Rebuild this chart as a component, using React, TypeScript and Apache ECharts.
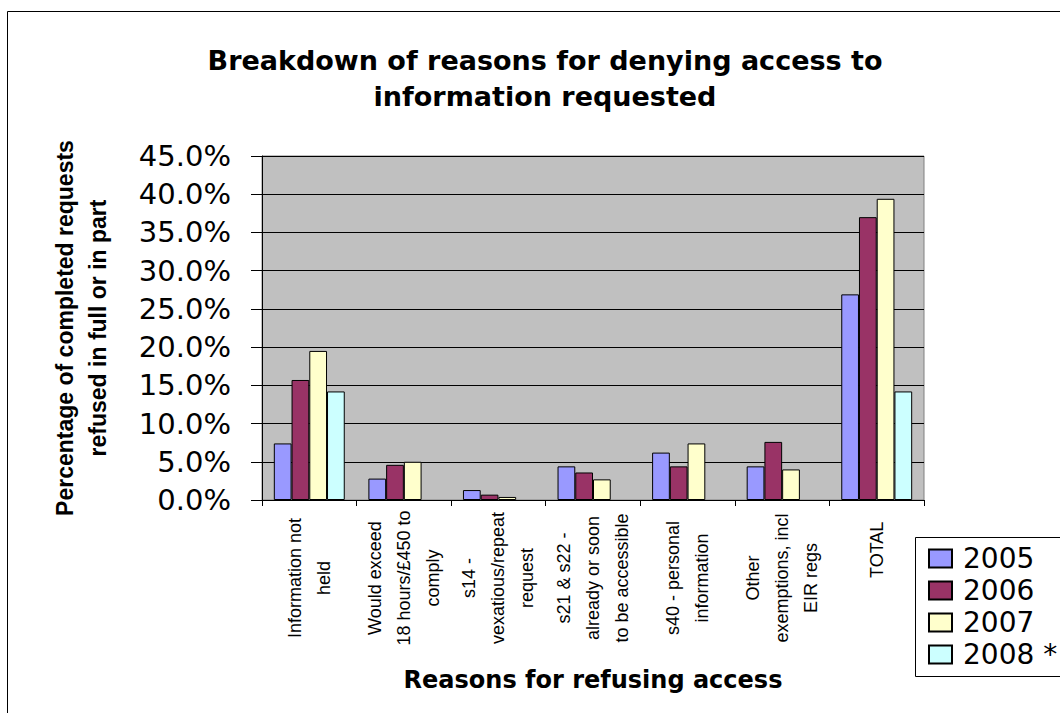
import React, { useEffect, useRef } from "react";
import * as echarts from "echarts";

const categories: string[] = [
  "Information not\nheld",
  "Would exceed\n18 hours/£450 to\ncomply",
  "s14 -\nvexatious/repeat\nrequest",
  "s21 & s22 -\nalready or soon\nto be accessible",
  "s40 - personal\ninformation",
  "Other\nexemptions, incl\nEIR regs",
  "TOTAL",
];

const seriesNames: string[] = ["2005", "2006", "2007", "2008 *"];

const values2005: (number | null)[] = [7.4, 2.8, 1.3, 4.4, 6.2, 4.4, 26.9];
const values2006: (number | null)[] = [15.7, 4.6, 0.7, 3.6, 4.4, 7.6, 37.0];
const values2007: (number | null)[] = [19.5, 5.0, 0.4, 2.7, 7.4, 4.0, 39.4];
const values2008: (number | null)[] = [14.2, null, null, null, null, null, 14.2];

const colors: string[] = ["#9999FF", "#993366", "#FFFFCC", "#CCFFFF"];

const titleText = "Breakdown of reasons for denying access to\ninformation requested";
const yAxisName = "Percentage of completed requests\nrefused in full or in part";
const xAxisName = "Reasons for refusing access";

export default function App() {
  const ref = useRef<HTMLDivElement>(null);

  useEffect(() => {
    if (!ref.current) return;
    const chart = echarts.init(ref.current, null, { renderer: "svg" });
    const allValues = [values2005, values2006, values2007, values2008];

    const xData = categories.map((c, i) =>
      i === categories.length - 1 ? { value: c, textStyle: { align: "left" } } : c
    );

    chart.setOption({
      animation: false,
      backgroundColor: "#ffffff",
      title: {
        text: titleText,
        left: 545,
        top: 42,
        padding: 0,
        textAlign: "center",
        textStyle: {
          fontFamily: "DejaVu Sans",
          fontWeight: "bold",
          fontSize: 27,
          lineHeight: 36,
          color: "#000",
        },
      },
      graphic: [
        {
          type: "rect",
          shape: { x: 7.5, y: 11.5, width: 1200, height: 900 },
          style: { fill: "none", stroke: "#000", lineWidth: 1 },
          silent: true,
          z: -10,
        },
        {
          type: "rect",
          shape: { x: 915.5, y: 537.5, width: 200, height: 139 },
          style: { fill: "#ffffff", stroke: "#000", lineWidth: 1 },
          silent: true,
          z: 1,
        },
      ],
      legend: {
        orient: "vertical",
        left: 915,
        top: 544,
        padding: [0, 0, 0, 13],
        itemGap: 3,
        itemWidth: 23,
        itemHeight: 18,
        borderWidth: 0,
        icon: "rect",
        z: 10,
        textStyle: {
          fontFamily: "DejaVu Sans",
          fontSize: 28,
          lineHeight: 29,
          color: "#000",
          padding: [0, 0, 0, 6],
        },
        data: seriesNames,
      },
      grid: {
        left: 262,
        top: 156,
        right: 136,
        bottom: 213,
        show: true,
        backgroundColor: "#C0C0C0",
        borderColor: "#808080",
        borderWidth: 1,
        containLabel: false,
      },
      xAxis: {
        type: "category",
        data: xData,
        name: xAxisName,
        nameLocation: "middle",
        nameGap: 168,
        nameTextStyle: {
          fontFamily: "DejaVu Sans",
          fontWeight: "bold",
          fontSize: 24,
          lineHeight: 24,
          color: "#000",
        },
        axisLine: { lineStyle: { color: "#000", width: 1 } },
        axisTick: { show: true, alignWithLabel: false, length: 6, lineStyle: { color: "#000" } },
        axisLabel: {
          interval: 0,
          rotate: 90,
          align: "center",
          verticalAlign: "middle",
          margin: 78,
          fontFamily: "Liberation Sans",
          fontSize: 18,
          lineHeight: 29,
          color: "#000",
          formatter: (v: string) =>
            v
              .split("\n")
              .map((line) => `{a|${line}}`)
              .join("\n"),
          rich: {
            a: {
              fontFamily: "Liberation Sans",
              fontSize: 18,
              lineHeight: 29,
              color: "#000",
              align: "center",
            },
          },
        },
        splitLine: { show: false },
      },
      yAxis: {
        type: "value",
        min: 0,
        max: 45,
        interval: 5,
        name: yAxisName,
        nameLocation: "middle",
        nameGap: 148,
        nameTextStyle: {
          fontFamily: "Liberation Sans",
          fontWeight: "bold",
          fontSize: 23,
          lineHeight: 33,
          color: "#000",
        },
        axisLine: { show: true, lineStyle: { color: "#000", width: 1 } },
        axisTick: { show: true, length: 11, lineStyle: { color: "#000" } },
        axisLabel: {
          formatter: (v: number) => v.toFixed(1) + "%",
          margin: 31,
          fontFamily: "DejaVu Sans",
          fontSize: 29,
          color: "#000",
        },
        splitLine: { show: true, lineStyle: { color: "#000", width: 1 } },
      },
      series: seriesNames.map((name, i) => ({
        name,
        type: "bar",
        data: allValues[i],
        barGap: "0%",
        barCategoryGap: "25%",
        itemStyle: { color: colors[i], borderColor: "#000", borderWidth: 1 },
      })),
    });

    return () => chart.dispose();
  }, []);

  return (
    <div
      ref={ref}
      style={{ position: "absolute", left: 0, top: 0, width: 1060, height: 713 }}
    />
  );
}
